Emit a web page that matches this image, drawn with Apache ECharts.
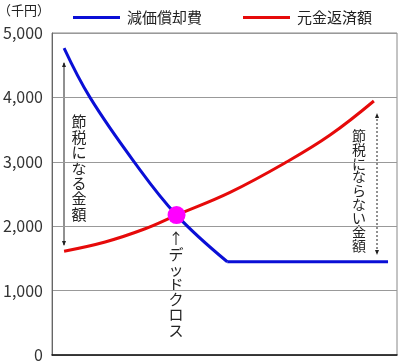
<!DOCTYPE html>
<html>
<head>
<meta charset="utf-8">
<script src="https://cdn.jsdelivr.net/npm/echarts@6/dist/echarts.min.js"></script>
<style>
html,body{margin:0;padding:0;background:#fff;}
#c{width:404px;height:363px;}
</style>
</head>
<body>
<div id="c"></div>
<script>
// ---- data (x: position along the period, 0-100; y: 千円) ----
const seriesNames = ['減価償却費', '元金返済額'];
const deprX = [3.5, 11, 23.8, 36.1, 50.8];
const deprY = [4765, 4000, 3000, 2172, 1448];
const deprFlatX = [50.8, 97.4];
const deprFlatY = [1448, 1448];
const repayX = [3.5, 15.4, 27, 36.1, 51.6, 68.1, 80.6, 93.3];
const repayY = [1612, 1755, 1960, 2172, 2525, 3000, 3415, 3944];
const crossX = [36.1];
const crossY = [2172];
const yTickLabels = ['0', '1,000', '2,000', '3,000', '4,000', '5,000'];
const unitLabel = '（千円）';
const noteLeft = '節税になる金額';
const noteRight = '節税にならない金額';
const noteCross = '↑デッドクロス';

const zip = (xs, ys) => xs.map((x, i) => [x, ys[i]]);
const vert = s => Array.from(s).join('\n');
const FONT = '"Noto Sans CJK JP", "Noto Sans", sans-serif';
const BLUE = '#0a0fd6';
const RED = '#e60a0a';

const chart = echarts.init(document.getElementById('c'), null, {renderer: 'canvas'});

function arrowHead(x, y, up) {
  const d = up ? 1 : -1;
  return {
    type: 'polygon',
    shape: {points: [[x, y], [x - 2, y + 5 * d], [x + 2, y + 5 * d]]},
    style: {fill: '#222'}
  };
}

chart.setOption({
  animation: false,
  backgroundColor: '#fff',
  textStyle: {fontFamily: FONT},
  grid: {left: 52, right: 7, top: 33, bottom: 8, show: true, borderColor: '#888', borderWidth: 1},
  legend: {
    data: seriesNames,
    left: 68, top: 5,
    icon: 'rect', itemWidth: 47, itemHeight: 3, itemGap: 41,
    textStyle: {fontFamily: FONT, fontSize: 15, color: '#222', padding: [0, 0, 0, 2]}
  },
  xAxis: {
    type: 'value', min: 0, max: 100,
    axisLine: {show: true, lineStyle: {color: '#111', width: 1.5}},
    axisTick: {show: false}, axisLabel: {show: false}, splitLine: {show: false}
  },
  yAxis: {
    type: 'value', min: 0, max: 5000, interval: 1000,
    axisLine: {show: true, lineStyle: {color: '#666', width: 1}},
    axisTick: {show: false},
    axisLabel: {
      fontFamily: FONT, fontSize: 16, color: '#333', margin: 9,
      formatter: v => yTickLabels[Math.round(v / 1000)]
    },
    splitLine: {show: true, lineStyle: {color: '#999', width: 1}}
  },
  series: [
    {
      name: seriesNames[0], type: 'line', data: zip(deprX, deprY),
      smooth: 0.4, showSymbol: false, color: BLUE,
      lineStyle: {color: BLUE, width: 3}, z: 3
    },
    {
      name: seriesNames[0], type: 'line', data: zip(deprFlatX, deprFlatY),
      showSymbol: false, color: BLUE,
      lineStyle: {color: BLUE, width: 3}, z: 3
    },
    {
      name: seriesNames[1], type: 'line', data: zip(repayX, repayY),
      smooth: 0.4, showSymbol: false, color: RED,
      lineStyle: {color: RED, width: 3}, z: 3
    },
    {
      name: 'デッドクロス', type: 'scatter', data: zip(crossX, crossY),
      symbolSize: 18, itemStyle: {color: '#ff00ff', opacity: 1}, z: 5
    }
  ],
  graphic: [
    {type: 'text', left: -2, top: 4, style: {text: unitLabel, font: '13px ' + FONT, fill: '#222'}},
    // left double arrow (solid)
    {type: 'line', shape: {x1: 64, y1: 63, x2: 64, y2: 245}, style: {stroke: '#222', lineWidth: 1}},
    arrowHead(64, 62, true), arrowHead(64, 246, false),
    {type: 'text', x: 79, y: 114, style: {text: vert(noteLeft), font: '15px ' + FONT, lineHeight: 15.4, fill: '#222', align: 'center', verticalAlign: 'top'}},
    // right double arrow (dotted)
    {type: 'line', shape: {x1: 377, y1: 115, x2: 377, y2: 253}, style: {stroke: '#222', lineWidth: 1, lineDash: [2, 2]}},
    arrowHead(377, 113, true), arrowHead(377, 255, false),
    {type: 'text', x: 359, y: 129, style: {text: vert(noteRight), font: '14px ' + FONT, lineHeight: 13.7, fill: '#222', align: 'center', verticalAlign: 'top'}},
    // dead cross label
    {type: 'text', x: 176, y: 231, style: {text: vert(noteCross), font: '15px ' + FONT, lineHeight: 15.2, fill: '#222', align: 'center', verticalAlign: 'top'}}
  ]
});
</script>
</body>
</html>
